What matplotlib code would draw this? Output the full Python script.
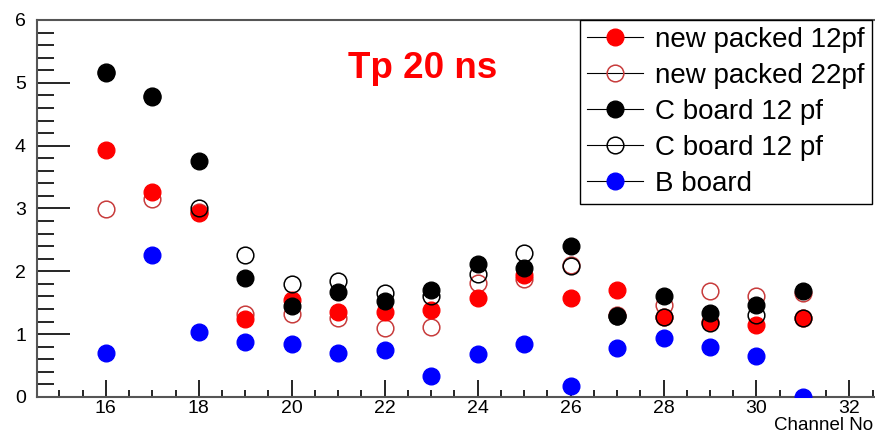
import numpy as np
import matplotlib.pyplot as plt
from matplotlib.ticker import MultipleLocator

plt.rcParams['font.family'] = ['Liberation Sans', 'DejaVu Sans']

channels = [16, 17, 18, 19, 20, 21, 22, 23, 24, 25, 26, 27, 28, 29, 30, 31]

new_packed_12pf = [3.93, 3.27, 2.92, 1.24, 1.54, 1.35, 1.35, 1.38, 1.57, 1.94, 1.57, 1.71, 1.28, 1.20, 1.14, 1.26]
new_packed_22pf = [2.99, 3.15, 2.95, 1.32, 1.32, 1.26, 1.09, 1.12, 1.81, 1.88, 2.10, 1.30, 1.46, 1.69, 1.61, 1.65]
c_board_filled = [5.16, 4.78, 3.75, 1.90, 1.45, 1.67, 1.53, 1.70, 2.12, 2.05, 2.40, 1.29, 1.61, 1.33, 1.46, 1.69]
c_board_open = [5.17, 4.79, 3.00, 2.26, 1.80, 1.85, 1.66, 1.60, 1.96, 2.29, 2.09, 1.29, 1.28, 1.17, 1.31, 1.26]
b_board = [0.705, 2.26, 1.04, 0.87, 0.84, 0.705, 0.74, 0.33, 0.68, 0.85, 0.175, 0.785, 0.94, 0.80, 0.66, 0.005]

fig = plt.figure(figsize=(8.75, 4.34), dpi=100)
ax = fig.add_axes([0.0423, 0.0853, 0.9577, 0.8687])

ms = 12
ax.plot(channels, new_packed_22pf, 'o', ms=ms, mfc='none', mec='#c83c3c', mew=1.1, ls='none',
        label='new packed 22pf', zorder=3)
ax.plot(channels, new_packed_12pf, 'o', ms=ms, color='#ff0000', mec='#ff0000', ls='none',
        label='new packed 12pf', zorder=4)
ax.plot(channels, c_board_filled, 'o', ms=ms, color='black', ls='none',
        label='C board 12 pf', zorder=5)
ax.plot(channels, c_board_open, 'o', ms=ms, mfc='none', mec='black', mew=1.1, ls='none',
        label='C board 12 pf ', zorder=6)
ax.plot(channels, b_board, 'o', ms=ms, color='#0000ff', ls='none',
        label='B board', zorder=7, clip_on=True)

ax.set_xlim(14.52, 32.55)
ax.set_ylim(0, 6)

ax.xaxis.set_major_locator(MultipleLocator(2))
ax.xaxis.set_minor_locator(MultipleLocator(0.5))
ax.yaxis.set_major_locator(MultipleLocator(1))
ax.yaxis.set_minor_locator(MultipleLocator(0.2))
ax.tick_params(axis='x', which='major', direction='in', length=12, width=1.2, labelsize=14, pad=2,
               top=False)
ax.tick_params(axis='x', which='minor', direction='in', length=5, width=1.2, top=False)
ax.tick_params(axis='y', which='major', direction='in', length=24, width=1.2, labelsize=14, pad=8,
               right=False)
ax.tick_params(axis='y', which='minor', direction='in', length=12, width=1.2, right=False)

for s in ['left', 'bottom', 'top']:
    ax.spines[s].set_linewidth(1.5)
    ax.spines[s].set_color('#555555')
ax.spines['right'].set_visible(False)

fig.text(873 / 875, 1 - 430 / 434, 'Channel No', ha='right', va='baseline', fontsize=13.5)
fig.text(423 / 875, 1 - 68 / 434, 'Tp 20 ns', ha='center', va='center', fontsize=26.5,
         fontweight='bold', color='#ff0000')

handles, labels = ax.get_legend_handles_labels()
order = [1, 0, 2, 3, 4]
leg_handles = []
for i in order:
    h = handles[i]
    lh, = ax.plot([], [], '-', color='black', lw=0.8, marker='o', ms=ms,
                  mfc=h.get_mfc(), mec=h.get_mec(), mew=h.get_mew())
    leg_handles.append(lh)
leg = ax.legend(leg_handles, ['new packed 12pf', 'new packed 22pf', 'C board 12 pf',
                              'C board 12 pf', 'B board'],
                loc='upper right', bbox_to_anchor=(0.996, 1.0), borderaxespad=0,
                fontsize=20, fancybox=False, edgecolor='black', framealpha=1,
                handlelength=2.0, labelspacing=0.36, borderpad=0.25, handletextpad=0.45)
leg.get_frame().set_linewidth(1.0)

fig.savefig('out.png', dpi=100)
